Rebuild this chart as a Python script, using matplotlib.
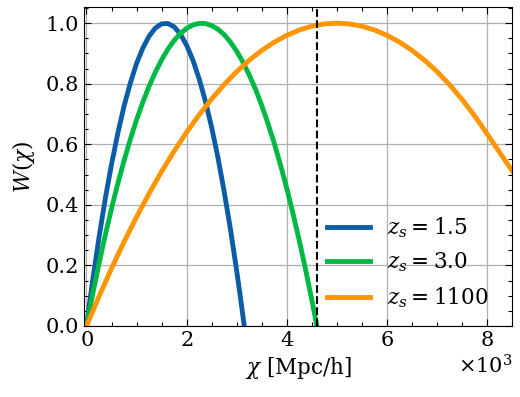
import matplotlib
matplotlib.use("Agg")
import matplotlib.pyplot as plt
from matplotlib.ticker import AutoMinorLocator

plt.rcParams['font.family'] = 'serif'
plt.rcParams['font.serif'] = ['DejaVu Serif']
plt.rcParams['mathtext.fontset'] = 'dejavuserif'

# chi in Mpc/h, W normalised to its peak
chi_15 = [0, 125, 250, 375, 500, 625, 750, 875, 1000, 1125, 1250, 1375, 1500, 1625, 1750,
          1875, 2000, 2125, 2250, 2375, 2500, 2625, 2750, 2875, 3000, 3075, 3150]
w_15 = [0, 0.152, 0.292, 0.420, 0.534, 0.636, 0.726, 0.802, 0.867, 0.918, 0.957, 0.984,
        0.998, 0.999, 0.988, 0.964, 0.927, 0.878, 0.816, 0.742, 0.655, 0.556, 0.443, 0.319,
        0.181, 0.093, 0]

chi_30 = [0, 125, 250, 375, 500, 625, 750, 875, 1000, 1125, 1250, 1375, 1500, 1625, 1750,
          1875, 2000, 2125, 2250, 2375, 2500, 2625, 2750, 2875, 3000, 3125, 3250, 3375, 3500,
          3625, 3750, 3875, 4000, 4125, 4250, 4375, 4500, 4600]
w_30 = [0, 0.106, 0.206, 0.300, 0.388, 0.470, 0.546, 0.616, 0.681, 0.739, 0.792, 0.838,
        0.879, 0.914, 0.943, 0.966, 0.983, 0.994, 0.9995, 0.999, 0.992, 0.980, 0.962, 0.9375,
        0.907, 0.871, 0.829, 0.782, 0.728, 0.668, 0.603, 0.531, 0.454, 0.370, 0.281, 0.186,
        0.085, 0]

chi_1100 = [0, 250, 500, 750, 1000, 1250, 1500, 1750, 2000, 2250, 2500, 2750, 3000, 3250,
            3500, 3750, 4000, 4250, 4500, 4750, 5000, 5250, 5500, 5750, 6000, 6250, 6500,
            6750, 7000, 7250, 7500, 7750, 8000, 8250, 8500]
w_1100 = [0, 0.0975, 0.19, 0.2775, 0.36, 0.4375, 0.51, 0.5775, 0.64, 0.6975, 0.75, 0.7975,
          0.84, 0.8775, 0.91, 0.9375, 0.96, 0.9775, 0.99, 0.9975, 1.0, 0.9975, 0.99, 0.9775,
          0.96, 0.9375, 0.91, 0.8775, 0.84, 0.7965, 0.748, 0.694, 0.634, 0.573, 0.512]

chi_cut = 4600

fig = plt.figure(figsize=(5.2, 3.97), dpi=100)
ax = fig.add_axes([0.1615, 0.179, 0.8235, 0.803])

ax.plot(chi_15, w_15, color='#0C5DA5', lw=3.5, label=r'$z_s = 1.5$')
ax.plot(chi_30, w_30, color='#00B945', lw=3.5, label=r'$z_s = 3.0$')
ax.plot(chi_1100, w_1100, color='#FF9500', lw=3.5, label=r'$z_s = 1100$')
ax.axvline(chi_cut, color='black', ls='--', lw=1.5)

ax.set_xlim(-50, 8500)
ax.set_ylim(0, 1.053)
ax.set_xticks([0, 2000, 4000, 6000, 8000])
ax.set_yticks([0.0, 0.2, 0.4, 0.6, 0.8, 1.0])
ax.ticklabel_format(axis='x', style='sci', scilimits=(0, 0), useMathText=True)
ax.xaxis.get_offset_text().set_fontsize(15)

ax.xaxis.set_minor_locator(AutoMinorLocator(4))
ax.yaxis.set_minor_locator(AutoMinorLocator(4))
ax.tick_params(which='both', direction='in', top=True, right=True, labelsize=15)
ax.tick_params(which='major', length=5, width=0.8)
ax.tick_params(which='minor', length=3, width=0.8)

ax.grid(True, color='#b0b0b0', lw=0.9)
ax.set_axisbelow(True)

ax.set_xlabel(r'$\chi$ [Mpc/h]', fontsize=15.5)
ax.set_ylabel(r'$W(\chi)$', fontsize=15.5, labelpad=6)

ax.legend(loc='lower right', frameon=False, fontsize=15.5, handlelength=2.0,
          bbox_to_anchor=(0.99, -0.01))

fig.savefig('out.png', dpi=100)
